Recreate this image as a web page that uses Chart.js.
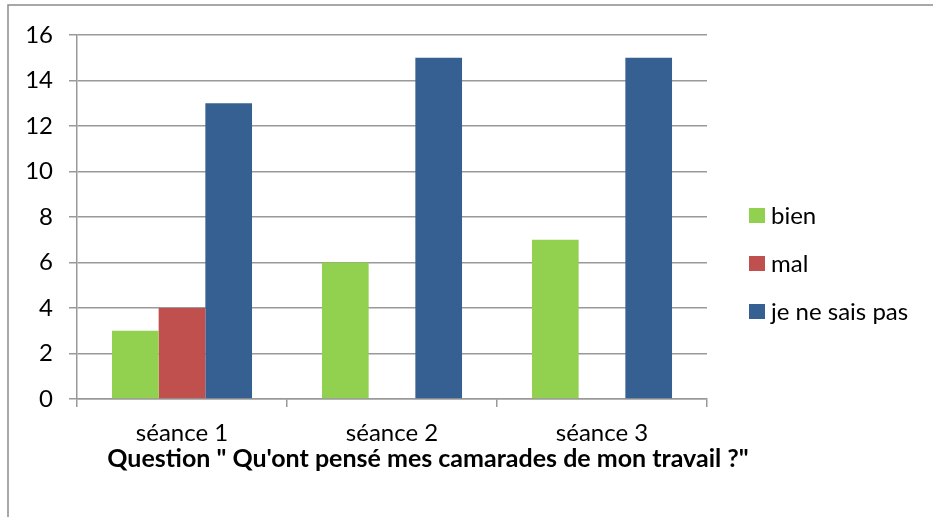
<!DOCTYPE html>
<html><head><meta charset="utf-8">
<script src="https://cdn.jsdelivr.net/npm/chart.js@4/dist/chart.umd.min.js"></script>
<style>html,body{margin:0;padding:0;background:#fff}#wrap{width:933px;height:517px}</style>
</head><body><div id="wrap"><canvas id="c" width="933" height="517"></canvas></div>
<script>
// ---- data ----
const categories = ['séance 1', 'séance 2', 'séance 3'];
const seriesLabels = ['bien', 'mal', 'je ne sais pas'];
const bien = [3, 6, 7];
const mal = [4, 0, 0];
const jeNeSaisPas = [13, 15, 15];
const yTickMin = 0, yTickMax = 16, yTickStep = 2;
const axisTitle = 'Question " Qu\'ont pensé mes camarades de mon travail ?"';

// ---- style ----
const colors = ['#92D050', '#C0504D', '#376092'];
const gridColor = '#999999';
const FONT = 'Lato, "Liberation Sans", sans-serif';
const TICK_SIZE = 24;

const framePlugin = {
  id: 'frame',
  beforeDraw(chart) {
    const ctx = chart.ctx;
    ctx.save();
    ctx.fillStyle = '#fff';
    ctx.fillRect(0, 0, chart.width, chart.height);
    ctx.strokeStyle = '#8c8c8c';
    ctx.lineWidth = 1.5;
    ctx.strokeRect(8, 5, chart.width + 20, chart.height + 20);
    ctx.restore();
  }
};

const sideLegend = {
  id: 'sideLegend',
  afterDraw(chart, args, opts) {
    const ctx = chart.ctx;
    ctx.save();
    ctx.font = TICK_SIZE + 'px ' + FONT;
    ctx.textBaseline = 'middle';
    ctx.textAlign = 'left';
    chart.data.datasets.forEach((ds, i) => {
      const cy = opts.y0 + i * opts.step;
      ctx.fillStyle = ds.backgroundColor;
      ctx.fillRect(opts.x, cy - 7.5, 16, 15);
      ctx.fillStyle = '#000';
      ctx.fillText(ds.label, opts.x + 22, cy + 1);
    });
    ctx.restore();
  }
};

const bottomTitle = {
  id: 'bottomTitle',
  afterDraw(chart, args, opts) {
    const ctx = chart.ctx;
    ctx.save();
    ctx.font = 'bold ' + opts.size + 'px ' + FONT;
    ctx.textAlign = 'center';
    ctx.textBaseline = 'alphabetic';
    ctx.fillStyle = '#000';
    ctx.fillText(opts.text, opts.x, opts.y);
    ctx.restore();
  }
};

new Chart(document.getElementById('c'), {
  type: 'bar',
  data: {
    labels: categories,
    datasets: [
      { label: seriesLabels[0], data: bien, backgroundColor: colors[0] },
      { label: seriesLabels[1], data: mal, backgroundColor: colors[1] },
      { label: seriesLabels[2], data: jeNeSaisPas, backgroundColor: colors[2] }
    ]
  },
  options: {
    responsive: false,
    devicePixelRatio: 1,
    animation: false,
    layout: { padding: { left: 0, right: 226, top: 35, bottom: 0 } },
    datasets: { bar: { categoryPercentage: 0.667, barPercentage: 1.0, borderWidth: 0 } },
    plugins: {
      legend: { display: false },
      tooltip: { enabled: false },
      sideLegend: { x: 749, y0: 215.5, step: 48 },
      bottomTitle: { text: axisTitle, x: 428, y: 467, size: 25 }
    },
    scales: {
      x: {
        offset: true,
        grid: { offset: true, drawOnChartArea: false, drawTicks: true, tickLength: 8, color: gridColor, lineWidth: 1.5 },
        border: { display: true, color: gridColor, width: 1.5 },
        ticks: { color: '#000', font: { family: FONT, size: TICK_SIZE }, padding: 12, maxRotation: 0 },
        afterFit(scale) { scale.height = 118; }
      },
      y: {
        min: yTickMin, max: yTickMax,
        grid: { drawTicks: true, tickLength: 8, color: gridColor, lineWidth: 1.5 },
        border: { display: true, color: gridColor, width: 1.5 },
        ticks: { stepSize: yTickStep, color: '#000', font: { family: FONT, size: TICK_SIZE }, padding: 16 },
        afterFit(scale) { scale.width = 77; }
      }
    }
  },
  plugins: [framePlugin, sideLegend, bottomTitle]
});
</script></body></html>
